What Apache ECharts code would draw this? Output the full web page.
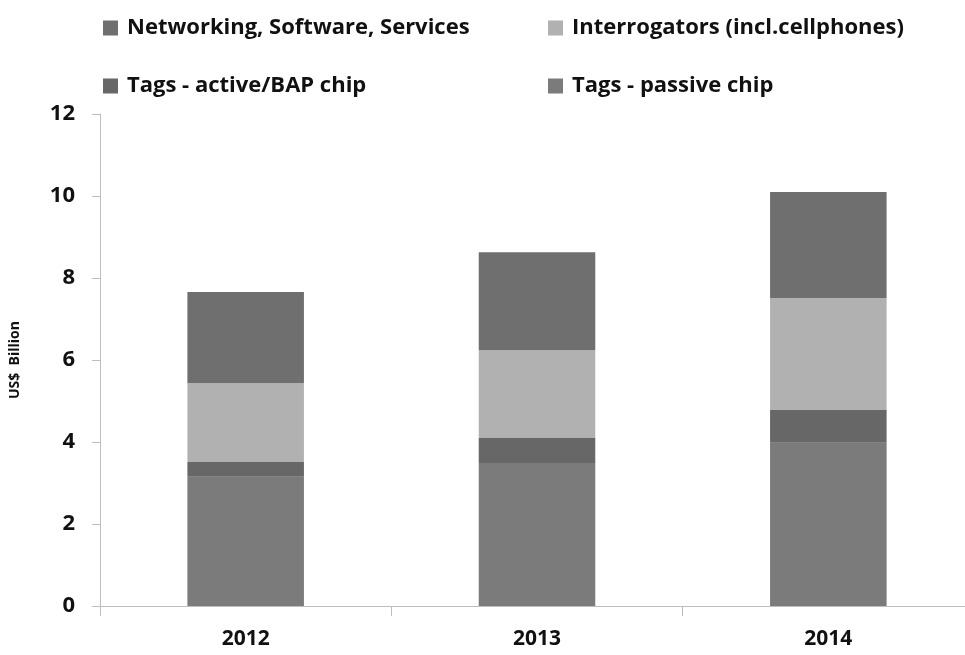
<!DOCTYPE html>
<html>
<head>
<meta charset="utf-8">
<script src="https://cdn.jsdelivr.net/npm/echarts@6/dist/echarts.min.js"></script>
<style>html,body{margin:0;padding:0;background:#fff;overflow:hidden}#c{width:974px;height:655px}</style>
</head>
<body>
<div id="c"></div>
<script>
var categories = ['2012', '2013', '2014'];
var passive = [3.15, 3.49, 3.98];
var active = [0.36, 0.61, 0.80];
var interrogators = [1.93, 2.14, 2.73];
var networking = [2.22, 2.39, 2.59];
var yTicks = [0, 2, 4, 6, 8, 10, 12];

var FONT = 'Open Sans';
var names = ['Networking, Software, Services', 'Interrogators (incl.cellphones)', 'Tags - active/BAP chip', 'Tags - passive chip'];
var colors = ['#6f6f6f', '#b1b1b1', '#676767', '#7b7b7b'];
var legendPos = [[103, 17], [548, 17], [103, 75], [548, 75]];

var chart = echarts.init(document.getElementById('c'));
var legends = names.map(function (n, i) {
  return {
    data: [n], left: legendPos[i][0], top: legendPos[i][1], padding: 0,
    itemWidth: 15, itemHeight: 15, itemGap: 0, icon: 'rect',
    textStyle: { fontFamily: FONT, fontWeight: 'bold', fontSize: 22, color: '#111', padding: [0, 0, 0, 4] },
    selectedMode: false
  };
});
function mk(name, data, color) {
  return { name: name, type: 'bar', stack: 's', data: data, barWidth: '40%',
    itemStyle: { color: color }, emphasis: { disabled: true } };
}
chart.setOption({
  animation: false,
  legend: legends,
  grid: { left: 99, top: 114, bottom: 49, right: 0 },
  xAxis: {
    type: 'category', data: categories,
    axisLine: { lineStyle: { color: '#bdbdbd', width: 1 } },
    axisTick: { show: true, length: 10, lineStyle: { color: '#bdbdbd' } },
    axisLabel: { fontFamily: FONT, fontWeight: 'bold', fontSize: 21, color: '#111', margin: 23 }
  },
  yAxis: {
    type: 'value', min: yTicks[0], max: yTicks[yTicks.length - 1], interval: 2,
    name: 'US$  Billion', nameLocation: 'middle', nameGap: 78, nameRotate: 90,
    nameTextStyle: { fontFamily: FONT, fontWeight: 'bold', fontSize: 14, color: '#111' },
    axisLine: { show: true, lineStyle: { color: '#bdbdbd', width: 1 } },
    axisTick: { show: true, length: 8, lineStyle: { color: '#bdbdbd' } },
    splitLine: { show: false },
    axisLabel: { fontFamily: FONT, fontWeight: 'bold', fontSize: 22, color: '#111', margin: 25 }
  },
  series: [
    mk(names[3], passive, colors[3]),
    mk(names[2], active, colors[2]),
    mk(names[1], interrogators, colors[1]),
    mk(names[0], networking, colors[0])
  ]
});
</script>
</body>
</html>
